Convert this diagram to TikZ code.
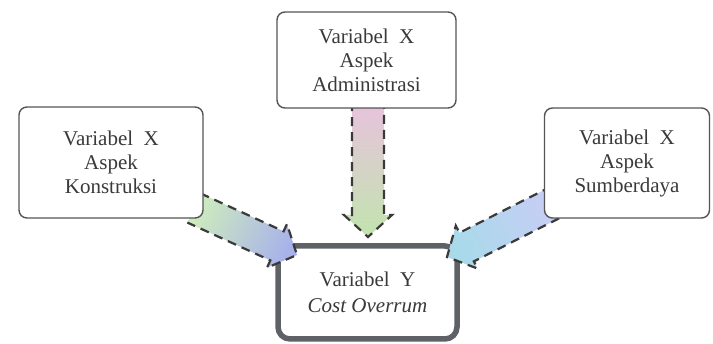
\documentclass[tikz,border=0pt]{standalone}
\usepackage{fontspec}
\setmainfont{Liberation Serif}
\usetikzlibrary{calc}

\definecolor{inkgray}{HTML}{3A3A3A}
\definecolor{boxline}{HTML}{555555}
\definecolor{heavyline}{HTML}{5E6266}
\definecolor{pinkfill}{HTML}{E8C2DE}
\definecolor{greenfill}{HTML}{C2E4AE}
\definecolor{leafgreen}{HTML}{CDEBBE}
\definecolor{bluefill}{HTML}{A8B2EA}
\definecolor{skyfill}{HTML}{C6CEF4}
\definecolor{cyanfill}{HTML}{A8DAEA}

\tikzset{
  varbox/.style={draw=boxline, line width=1.4pt, rounded corners=8pt, fill=white,
    text=inkgray, align=center, inner sep=0pt,
    font=\fontsize{21}{24}\selectfont},
  ybox/.style={varbox, draw=heavyline, line width=5.5pt, rounded corners=12pt,
    font=\fontsize{21}{26}\selectfont},
  arrowedge/.style={draw=inkgray, line width=2.2pt, dash pattern=on 9pt off 6pt,
    line cap=butt, line join=miter},
}

% Broad arrow with a shaded body and a dashed outline, from node/coordinate #1
% to #2; #3 tail colour, #4 head colour.
\newcommand{\broadarrow}[4]{%
  \path let \p1=($(#2)-(#1)$) in
    \pgfextra{\pgfmathsetmacro\barang{atan2(\y1,\x1)}%
              \pgfmathsetmacro\barlen{veclen(\x1,\y1)}%
              \pgfmathsetmacro\barshade{\barang-90}%
              \xdef\barang{\barang}\xdef\barlen{\barlen}\xdef\barshade{\barshade}};
  \shade[shift={(#1)}, rotate=\barang, x=1pt, y=1pt,
         bottom color=#3, top color=#4, shading angle=\barshade]
    (0,-16) -- (\barlen-22,-16) -- (\barlen-22,-24) -- (\barlen,0)
    -- (\barlen-22,24) -- (\barlen-22,16) -- (0,16) -- cycle;
  \draw[shift={(#1)}, rotate=\barang, x=1pt, y=1pt, arrowedge]
    (0,16) -- (\barlen-22,16) -- (\barlen-22,24)
    -- (\barlen,0) -- (\barlen-22,-24) -- (\barlen-22,-16) -- (0,-16);}

\begin{document}
\begin{tikzpicture}[x=1pt, y=-1pt]
  \fill[white] (0,0) rectangle (713,344);
  \useasboundingbox (0,0) rectangle (713,344);

  % dependent variable
  \node[ybox, minimum width=179pt, minimum height=93pt] (y) at (367.5,292.5)
    {Variabel\ \ Y\\\textit{Cost Overrum}};

  % end points of the three arrows
  \coordinate (admtail) at (368,100);
  \coordinate (admtip)  at (368,237);
  \coordinate (kontail) at (194,208);
  \coordinate (kontip)  at (297,255);
  \coordinate (sumtail) at (552,204);
  \coordinate (sumtip)  at (447,257);

  \broadarrow{admtail}{admtip}{pinkfill}{greenfill}
  \broadarrow{kontail}{kontip}{leafgreen}{bluefill}
  \broadarrow{sumtail}{sumtip}{skyfill}{cyanfill}

  % independent variables
  \node[varbox, minimum width=179pt, minimum height=96pt] (adm) at (366.5,60)
    {Variabel\ \ X\\Aspek\\Administrasi};
  \node[varbox, minimum width=184pt, minimum height=111pt] (kon) at (111,162.5)
    {Variabel\ \ X\\Aspek\\Konstruksi};
  \node[varbox, minimum width=165pt, minimum height=110pt] (sum) at (627,163)
    {Variabel\ \ X\\Aspek\\Sumberdaya};
\end{tikzpicture}
\end{document}
